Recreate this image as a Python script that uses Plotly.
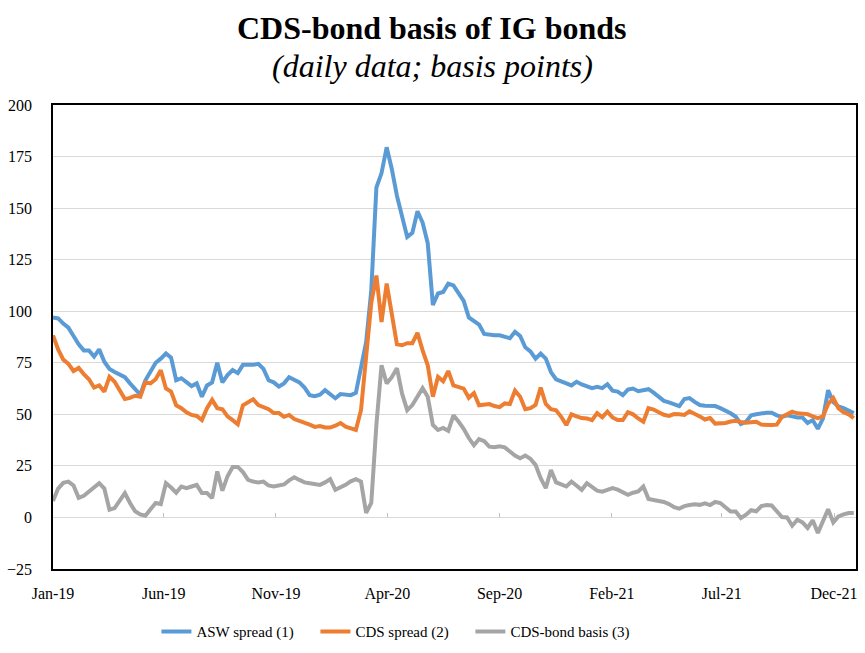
import pandas as pd
import plotly.graph_objects as go

# Weekly observation dates (x categories)
dates = pd.date_range("2019-01-01", periods=157, freq="7D")

asw_spread = [
    97, 96.5, 94, 92, 88, 84, 81, 81, 78, 81.5, 75.5, 72, 70.5, 69, 68, 65, 62, 59.5, 66.5, 71,
    75, 77, 79.5, 77.5, 66.5, 67.5, 65.5, 63.7, 65, 58.5, 64, 65.5, 75, 65.5, 69, 71.5, 70, 74, 74, 74,
    74.5, 72, 66.5, 65.5, 63.5, 65, 68, 67, 65.5, 63, 59.3, 58.8, 59.5, 61.7, 59.5, 57.8, 59.8, 59.5, 59.3, 60.4,
    74, 85, 110, 160, 167, 179.5, 169, 156, 146, 136, 138, 148.5, 143, 133, 103, 108.6, 109.3, 113.4, 112.5, 109,
    105, 97, 95.5, 93.5, 89, 88.5, 88.3, 88.3, 87.5, 86.9, 90, 88, 82.5, 80.5, 77, 79.5, 77, 70.5, 67, 65.8,
    65, 64, 65.8, 64.5, 63.5, 62.7, 63.3, 62.7, 64.6, 61.5, 61, 59.3, 62, 62.5, 61.2, 61.5, 62.2, 60.5, 58.5, 56.5,
    55.8, 55, 54, 57.4, 57.9, 56, 54.5, 54.2, 54, 54, 53, 52, 50.5, 48.8, 45.3, 46.4, 49.5, 50, 50.6, 50.8,
    50.8, 49.5, 48.8, 49.5, 49, 48.5, 48.5, 45.8, 47.2, 43, 48, 61.7, 56, 53.8, 53, 52, 50.6,
]

cds_spread = [
    88.3, 81.5, 76.5, 74.5, 71, 72.5, 69.5, 67, 63, 64, 61, 68.2, 65.8, 61.7, 57.4, 58, 59, 58.5, 65.5, 65,
    67, 71.4, 62.5, 61, 54.4, 53, 51, 49.7, 49.2, 47.2, 53, 57, 53, 52.5, 49, 47.2, 45.2, 54.4, 56, 57.3,
    54.5, 53.5, 52.5, 50.6, 50.6, 48.8, 49.7, 47.7, 46.9, 46.3, 45, 43.9, 44.3, 43.6, 43.6, 44.5, 45.8, 44, 43, 42.4,
    52, 80, 104, 117.3, 94.8, 113.4, 99, 84, 83.5, 84.5, 84.5, 89.5, 81, 73.8, 58.5, 68.2, 66, 71, 64, 63,
    62.5, 58, 60.3, 54.4, 54.8, 55, 54, 53.5, 55.3, 55, 61.5, 58.5, 52.5, 53, 54.5, 63, 55, 52.5, 52, 48.8,
    44.8, 50, 49, 48.2, 48, 47.2, 50.6, 48.6, 51.3, 48.5, 47.2, 47.2, 51, 50, 48, 46.4, 53, 52.3, 51, 49.8,
    49.2, 50.1, 50, 49.7, 51.5, 50.5, 49, 47.5, 48.2, 45.5, 45.5, 45.8, 46.5, 46.9, 46.3, 45.9, 46.2, 46.4, 45, 44.8,
    44.8, 45, 48.8, 50, 51.3, 50.5, 50.1, 50.1, 49, 48.2, 49, 55, 57.9, 53, 51, 50, 48.2,
]

cds_bond_basis = [
    8, 14, 16.8, 17.4, 15.5, 9.5, 10.5, 12.5, 14.5, 16.6, 14, 3.7, 4.5, 8, 11.8, 7, 3, 1.5, 0.8, 4,
    7, 6.5, 16.6, 14.5, 12, 15, 14.2, 15, 15.8, 11.8, 11.8, 9.4, 22.3, 13, 20, 24.5, 24.5, 22, 18.2, 17.4,
    17, 17.4, 15.5, 15, 15.3, 16, 18, 19.5, 18.2, 17, 16.6, 16, 15.8, 17, 18.6, 13.4, 14.5, 15.8, 17.5, 18.6,
    17.4, 2.2, 7, 45, 73.8, 65, 68, 72.4, 60, 52, 54.5, 59, 62.7, 58.5, 44.8, 42.4, 43.4, 42, 49.5, 46.5,
    43, 38.5, 35, 38, 37, 34.3, 34, 34.5, 34, 32, 30, 28.7, 30, 28.5, 25.5, 19, 14.2, 23, 17, 16,
    15, 17.4, 15.5, 13.4, 16.6, 15, 13, 12.5, 13.4, 14.2, 13.5, 12.5, 11, 12, 12.6, 15, 9, 8.5, 8.2, 7.5,
    6.5, 5, 4.3, 5.5, 6, 6.4, 6.1, 6.8, 6, 7.5, 7, 5, 2.9, 2.9, -0.3, 1.3, 3.5, 3, 5.5, 6,
    5.8, 3, 0.2, 0, -4, -1.1, -2.4, -5.1, -1.4, -7.5, -1.5, 4, -2.4, 0.5, 1.5, 2.1, 2.1,
]

series_names = ["ASW spread (1)", "CDS spread (2)", "CDS-bond basis (3)"]
series_colors = ["#5B9BD5", "#ED7D31", "#A5A5A5"]

tick_dates = ["2019-01-01", "2019-06-01", "2019-11-01", "2020-04-01",
              "2020-09-01", "2021-02-01", "2021-07-01", "2021-12-01"]
tick_text = ["Jan-19", "Jun-19", "Nov-19", "Apr-20", "Sep-20", "Feb-21", "Jul-21", "Dec-21"]

FONT = "Liberation Serif"

fig = go.Figure()
legend_ids = ["legend", "legend2", "legend3"]
for name, vals, col, lg in zip(series_names, [asw_spread, cds_spread, cds_bond_basis],
                               series_colors, legend_ids):
    fig.add_trace(go.Scatter(x=dates, y=vals, mode="lines", name=name, legend=lg,
                             line=dict(color=col, width=4)))

# invisible helper trace to host the tick-mark axis at y=0
fig.add_trace(go.Scatter(x=[dates[0]], y=[None], xaxis="x2", showlegend=False,
                         hoverinfo="skip", mode="lines"))

legend_common = dict(orientation="h", xanchor="left", y=-0.135, yanchor="middle",
                     font=dict(family=FONT, size=15, color="black"),
                     bgcolor="rgba(0,0,0,0)", itemwidth=30)

fig.update_layout(
    width=865, height=653,
    margin=dict(l=53, r=9, t=105, b=83.5, autoexpand=False),
    paper_bgcolor="white", plot_bgcolor="white",
    font=dict(family=FONT, size=16, color="black"),
    showlegend=True,
    legend=dict(x=0.1288, **legend_common),
    legend2=dict(x=0.3268, **legend_common),
    legend3=dict(x=0.5198, **legend_common),
    xaxis=dict(type="date", range=["2019-01-01", "2021-12-31"],
               tickvals=tick_dates, ticktext=tick_text,
               showgrid=False, zeroline=False,
               showline=True, linecolor="black", linewidth=1.6, mirror=True,
               ticks="", ticklabelstandoff=9,
               tickfont=dict(family=FONT, size=16, color="black")),
    xaxis2=dict(type="date", overlaying="x", matches="x", anchor="free", position=1/9,
                side="bottom", tickvals=tick_dates, showticklabels=False,
                ticks="inside", ticklen=4, tickcolor="#BFBFBF", tickwidth=1,
                showgrid=False, zeroline=False, showline=False),
    yaxis=dict(range=[-25, 200], dtick=25, tick0=0,
               showgrid=True, gridcolor="#D9D9D9", gridwidth=1.3,
               zeroline=True, zerolinecolor="#D9D9D9", zerolinewidth=1.3,
               showline=True, linecolor="black", linewidth=1.6, mirror=True,
               ticks="", ticklabelstandoff=16,
               tickfont=dict(family=FONT, size=16, color="black")),
    annotations=[
        dict(text="<b>CDS-bond basis of IG bonds</b>", xref="paper", yref="paper",
             x=0.472, y=1.167, xanchor="center", yanchor="middle", showarrow=False,
             font=dict(family=FONT, size=32, color="black")),
        dict(text="<i>(daily data; basis points)</i>", xref="paper", yref="paper",
             x=0.472, y=1.085, xanchor="center", yanchor="middle", showarrow=False,
             font=dict(family=FONT, size=32, color="black")),
    ],
)

fig.write_html("out.html")
